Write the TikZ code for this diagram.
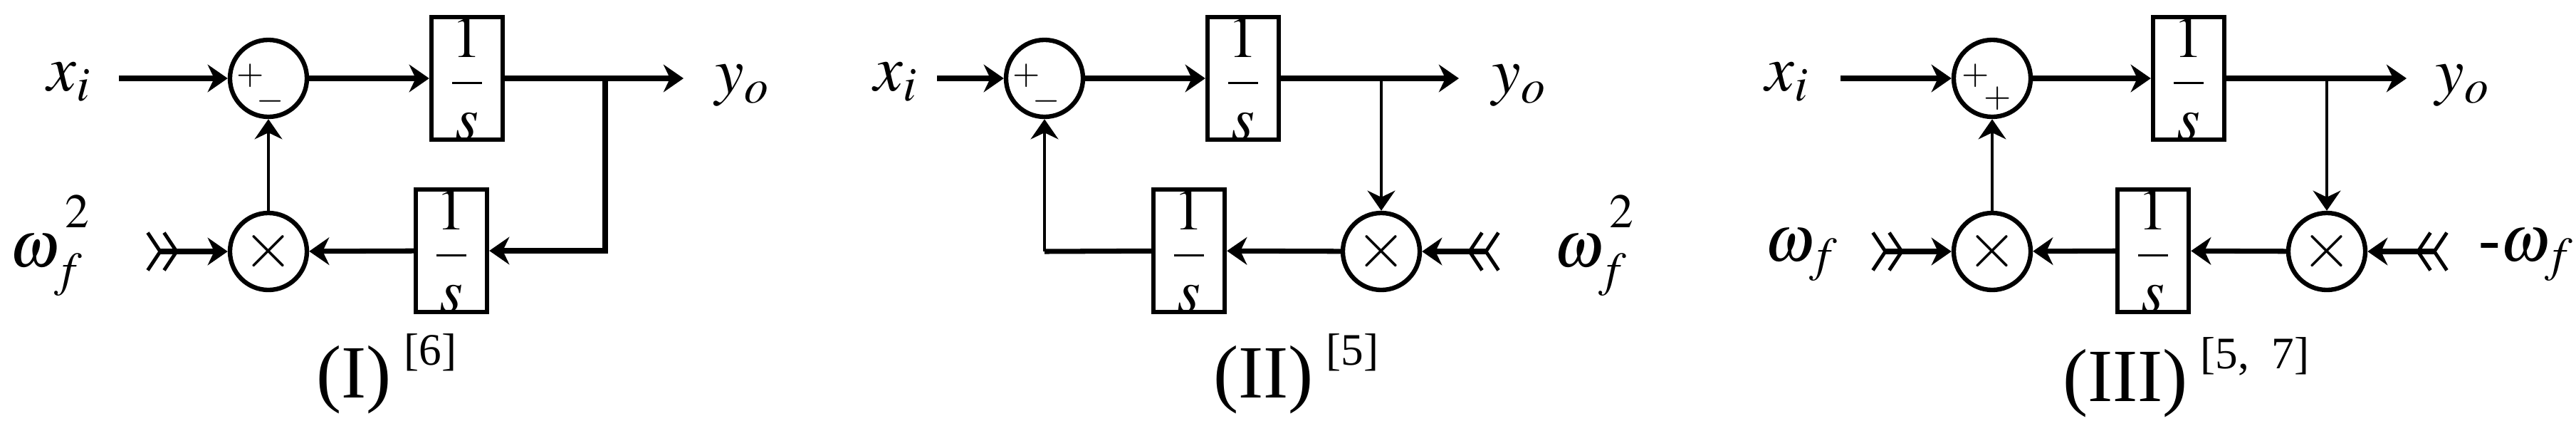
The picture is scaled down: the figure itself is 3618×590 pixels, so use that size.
\documentclass[tikz,border=0pt]{standalone}
\usepackage{mathptmx}
\usepackage{amsmath}
\usepackage{fontspec}
\setmainfont{Liberation Serif}
\usetikzlibrary{arrows.meta}
\newcommand{\intg}{$\dfrac{1}{s}$}

\begin{document}
\begin{tikzpicture}[x=0.01cm, y=-0.01cm,
    sig/.style={line width=2pt, -{Stealth[length=8pt,width=11pt]}},
    thinsig/.style={line width=1.3pt, -{Stealth[length=8pt,width=11pt]}},
    dsig/.style={line width=2pt, {Straight Barb[reversed,length=5pt,width=15pt,line width=1.4pt] Straight Barb[reversed,length=5pt,width=15pt,line width=1.4pt]}-{Stealth[length=8pt,width=11pt]}},
    fbline/.style={line width=2pt},
    sumnode/.style={circle, draw, line width=1.8pt, minimum size=1.08cm, inner sep=0pt},
    multnode/.style={circle, draw, line width=1.8pt, minimum size=1.08cm, inner sep=0pt, font=\fontsize{26}{30}\selectfont},
    intbox/.style={rectangle, draw, line width=1.8pt, minimum width=1.0cm, minimum height=1.7cm, inner sep=0pt, font=\fontsize{24}{28}\selectfont},
    lbl/.style={font=\fontsize{26}{30}\selectfont},
    sgn/.style={font=\fontsize{14}{16}\selectfont, inner sep=0pt},
    capt/.style={anchor=west, font=\fontsize{30}{34}\selectfont}]
    \useasboundingbox (0,0) rectangle (3618,590);

    % (I)
    \node[lbl] (xi1) at (97,115) {$x_i$};
    \node[sumnode] (sum1) at (377,110) {};
    \node[sgn] (p1) at (352,106) {$+$};
    \node[sgn] (m1) at (380,142) {$-$};
    \node[intbox] (int1) at (656,110) {\intg};
    \node[lbl] (yo1) at (1043,120) {$y_o$};
    \node[multnode] (mul1) at (377,353) {$\times$};
    \node[intbox] (fb1) at (634,352) {\intg};
    \node[lbl] (wf1) at (70,345) {$\omega_f^{\,\raisebox{6pt}{$\scriptstyle 2$}}$};
    \node[capt] (c1) at (432,525) {(I)\,\raisebox{13pt}{\fontsize{18}{20}\selectfont[6]}};
    \coordinate (in1) at (167,110);
    \coordinate (out1) at (960,110);
    \coordinate (br1) at (850,110);
    \coordinate (w1) at (205,353);
    \draw[sig] (in1) -- (sum1);
    \draw[sig] (sum1) -- (int1);
    \draw[sig] (int1) -- (out1);
    \draw[sig] (br1) |- (fb1);
    \draw[sig] (fb1) -- (mul1);
    \draw[thinsig] (mul1) -- (sum1);
    \draw[dsig] (w1) -- (mul1);

    % (II)
    \node[lbl] (xi2) at (1258,115) {$x_i$};
    \node[sumnode] (sum2) at (1467,110) {};
    \node[sgn] (p2) at (1442,106) {$+$};
    \node[sgn] (m2) at (1470,142) {$-$};
    \node[intbox] (int2) at (1746,110) {\intg};
    \node[lbl] (yo2) at (2134,120) {$y_o$};
    \node[multnode] (mul2) at (1940,353) {$\times$};
    \node[intbox] (fb2) at (1670,352) {\intg};
    \node[lbl] (wf2) at (2239,345) {$\omega_f^{\,\raisebox{6pt}{$\scriptstyle 2$}}$};
    \node[capt] (c2) at (1692,525) {(II)\,\raisebox{13pt}{\fontsize{18}{20}\selectfont[5]}};
    \coordinate (in2) at (1316,110);
    \coordinate (out2) at (2049,110);
    \coordinate (br2) at (1940,110);
    \coordinate (w2) at (2107,353);
    \coordinate (cn2) at (1467,353);
    \draw[sig] (in2) -- (sum2);
    \draw[sig] (sum2) -- (int2);
    \draw[sig] (int2) -- (out2);
    \draw[thinsig] (br2) -- (mul2);
    \draw[sig] (mul2) -- (fb2);
    \draw[fbline] (fb2) -- (cn2);
    \draw[thinsig] (cn2) -- (sum2);
    \draw[dsig] (w2) -- (mul2);

    % (III)
    \node[lbl] (xi3) at (2510,115) {$x_i$};
    \node[sumnode] (sum3) at (2798,110) {};
    \node[sgn] (p3) at (2775,106) {$+$};
    \node[sgn] (m3) at (2806,138) {$+$};
    \node[intbox] (int3) at (3074,110) {\intg};
    \node[lbl] (yo3) at (3459,120) {$y_o$};
    \node[multnode] (mul3) at (2798,353) {$\times$};
    \node[intbox] (fb3) at (3024,352) {\intg};
    \node[multnode] (mul4) at (3268,353) {$\times$};
    \node[lbl] (wf3) at (2530,358) {$\omega_f$};
    \node[lbl] (wf4) at (3548,358) {-$\omega_f$};
    \node[capt] (c3) at (2885,530) {(III)\,\raisebox{13pt}{\fontsize{18}{20}\selectfont[5,\ \ 7]}};
    \coordinate (in3) at (2585,110);
    \coordinate (out3) at (3380,110);
    \coordinate (br3) at (3268,110);
    \coordinate (w3) at (2628,353);
    \coordinate (w4) at (3439,353);
    \draw[sig] (in3) -- (sum3);
    \draw[sig] (sum3) -- (int3);
    \draw[sig] (int3) -- (out3);
    \draw[thinsig] (br3) -- (mul4);
    \draw[sig] (mul4) -- (fb3);
    \draw[sig] (fb3) -- (mul3);
    \draw[thinsig] (mul3) -- (sum3);
    \draw[dsig] (w3) -- (mul3);
    \draw[dsig] (w4) -- (mul4);

\end{tikzpicture}
\end{document}
